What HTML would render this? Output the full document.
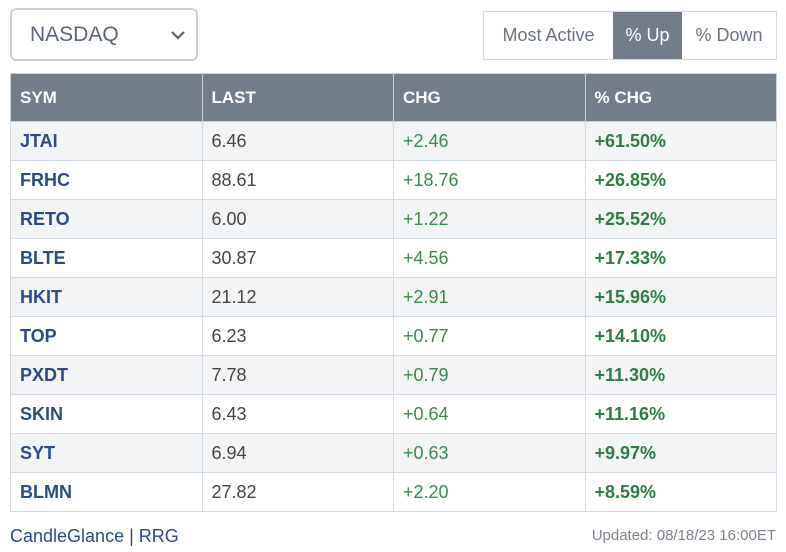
<!DOCTYPE html>
<html><head><style>
body{margin:0;width:786px;height:552px;background:#fff;font-family:"Liberation Sans",sans-serif;position:relative;overflow:hidden}
.dd{position:absolute;left:10px;top:8px;width:188px;height:53px;border:2px solid #c8d0da;border-radius:6px;box-sizing:border-box}
.dd span{position:absolute;left:18px;top:13px;font-size:21px;color:#5b6575}
.dd svg{position:absolute;left:158px;top:20px}
.btns{position:absolute;left:483px;top:11px;width:294px;height:49px;border:1px solid #d5dbe2;box-sizing:border-box;display:flex}
.btns div{height:47px;line-height:47px;font-size:18px;color:#6b7480;text-align:center}
.btns .on{background:#737d8a;color:#fff}
table{position:absolute;left:10px;top:73px;width:767px;border-collapse:collapse;table-layout:fixed}
th{background:#737d8a;color:#fff;text-align:left;font-size:17px;height:47px;padding:0 0 0 9px;border:1px solid #c9d1da;font-weight:bold}
td{height:38px;padding:0 0 0 9px;border:1px solid #d5dbe2;font-size:18px;color:#444}
tr.s td{background:#f3f4f6}
td.sym{color:#2b4b86;font-weight:bold}
td.g{color:#3a8a4e}
td.gb{color:#2e7d46;font-weight:bold}
.f1{position:absolute;left:10px;top:526px;font-size:18px;color:#2b4b86}
.f2{position:absolute;right:10px;top:527px;font-size:15px;color:#7b838d}
</style></head><body>
<div class="dd"><span>NASDAQ</span><svg width="16" height="10"><polyline points="2,2 8,8 14,2" fill="none" stroke="#5b6575" stroke-width="2.2"/></svg></div>
<div class="btns"><div style="width:129px">Most Active</div><div class="on" style="width:69px">% Up</div><div style="width:94px">% Down</div></div>
<table>
<tr><th>SYM</th><th>LAST</th><th>CHG</th><th>% CHG</th></tr>
<tr class="s"><td class="sym">JTAI</td><td>6.46</td><td class="g">+2.46</td><td class="gb">+61.50%</td></tr>
<tr><td class="sym">FRHC</td><td>88.61</td><td class="g">+18.76</td><td class="gb">+26.85%</td></tr>
<tr class="s"><td class="sym">RETO</td><td>6.00</td><td class="g">+1.22</td><td class="gb">+25.52%</td></tr>
<tr><td class="sym">BLTE</td><td>30.87</td><td class="g">+4.56</td><td class="gb">+17.33%</td></tr>
<tr class="s"><td class="sym">HKIT</td><td>21.12</td><td class="g">+2.91</td><td class="gb">+15.96%</td></tr>
<tr><td class="sym">TOP</td><td>6.23</td><td class="g">+0.77</td><td class="gb">+14.10%</td></tr>
<tr class="s"><td class="sym">PXDT</td><td>7.78</td><td class="g">+0.79</td><td class="gb">+11.30%</td></tr>
<tr><td class="sym">SKIN</td><td>6.43</td><td class="g">+0.64</td><td class="gb">+11.16%</td></tr>
<tr class="s"><td class="sym">SYT</td><td>6.94</td><td class="g">+0.63</td><td class="gb">+9.97%</td></tr>
<tr><td class="sym">BLMN</td><td>27.82</td><td class="g">+2.20</td><td class="gb">+8.59%</td></tr>
</table>
<div class="f1">CandleGlance | RRG</div>
<div class="f2">Updated: 08/18/23 16:00ET</div>
</body></html>
